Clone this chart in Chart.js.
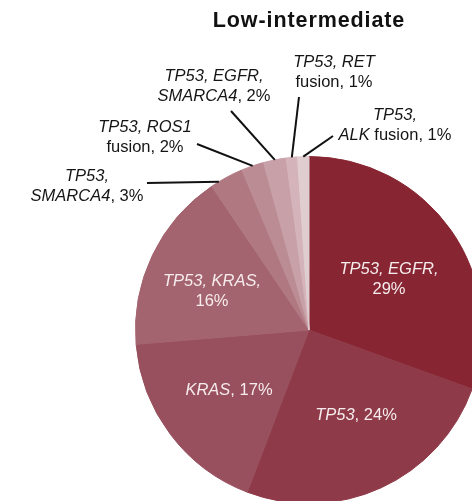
<!DOCTYPE html>
<html>
<head>
<meta charset="utf-8">
<script src="https://cdn.jsdelivr.net/npm/chart.js@4"></script>
<style>
  html, body { margin: 0; padding: 0; overflow: hidden; background: #fff; }
  #wrap { position: absolute; left: 0; top: 0; width: 483px; height: 504px; }
</style>
</head>
<body>
<div id="wrap"><canvas id="pieChart"></canvas></div>
<script>
// slices, clockwise from 12 o'clock
const categories = ['TP53, EGFR', 'TP53', 'KRAS', 'TP53, KRAS', 'TP53, SMARCA4',
  'TP53, ROS1 fusion', 'TP53, EGFR, SMARCA4', 'TP53, RET fusion', 'TP53, ALK fusion'];
const shares = [29, 24, 17, 16, 3, 2, 2, 1, 1];
const colors = ['#872632', '#8f3a48', '#98505e', '#a4646f', '#b07880',
  '#bc8c94', '#c8a0a8', '#d4b4ba', '#e0cdd0'];
const title = 'Low-intermediate';

// label text: each line is a list of [text, italic] runs, '%' gets the share
const labelLines = [
  [[['TP53, EGFR,', true]], [['%', false]]],
  [[['TP53', true], [', %', false]]],
  [[['KRAS', true], [', %', false]]],
  [[['TP53, KRAS,', true]], [['%', false]]],
  [[['TP53,', true]], [['SMARCA4', true], [', %', false]]],
  [[['TP53, ROS1', true]], [['fusion, %', false]]],
  [[['TP53, EGFR,', true]], [['SMARCA4', true], [', %', false]]],
  [[['TP53, RET', true]], [['fusion, %', false]]],
  [[['TP53,', true]], [['ALK', true], [' fusion, %', false]]]
];

// where each label sits; outside ones get a leader line to the arc
const labelPos = [
  { x: 389, y: 269, inside: true },
  { x: 356, y: 415, inside: true },
  { x: 229, y: 390, inside: true },
  { x: 212, y: 281, inside: true },
  { x: 87, y: 176, end: [147, 183], angleShift: -0.05 },
  { x: 145, y: 127, end: [197, 144] },
  { x: 214, y: 76, end: [231, 111] },
  { x: 334, y: 62, end: [299, 97] },
  { x: 395, y: 115, end: [333, 136] }
];

const FONT = '"Liberation Sans", Arial, sans-serif';

function drawRuns(ctx, runs, cx, cy, size) {
  const fonts = runs.map(r => (r[1] ? 'italic ' : '') + size + 'px ' + FONT);
  let total = 0;
  const widths = runs.map((r, i) => { ctx.font = fonts[i]; const w = ctx.measureText(r[0]).width; total += w; return w; });
  let x = cx - total / 2;
  runs.forEach((r, i) => {
    ctx.font = fonts[i];
    ctx.fillText(r[0], x, cy);
    x += widths[i];
  });
}

const labelPlugin = {
  id: 'labels',
  afterDraw(chart) {
    const ctx = chart.ctx;
    const arcs = chart.getDatasetMeta(0).data;
    ctx.save();
    ctx.textBaseline = 'middle';

    // title
    ctx.fillStyle = '#111';
    ctx.font = 'bold 21.5px ' + FONT;
    ctx.letterSpacing = '0.9px';
    ctx.textAlign = 'center';
    ctx.fillText(title, 309, 21);
    ctx.letterSpacing = '0px';
    ctx.textAlign = 'left';

    arcs.forEach((arc, i) => {
      const p = labelPos[i];
      if (p.end) {
        const mid = (arc.startAngle + arc.endAngle) / 2 + (p.angleShift || 0);
        const ax = arc.x + Math.cos(mid) * arc.outerRadius;
        const ay = arc.y + Math.sin(mid) * arc.outerRadius;
        ctx.strokeStyle = '#111';
        ctx.lineWidth = 2;
        ctx.beginPath();
        ctx.moveTo(p.end[0], p.end[1]);
        ctx.lineTo(ax, ay);
        ctx.stroke();
      }
      ctx.fillStyle = p.inside ? '#f6eced' : '#151515';
      labelLines[i].forEach((line, k) => {
        const runs = line.map(r => [r[0].replace('%', shares[i] + '%'), r[1]]);
        drawRuns(ctx, runs, p.x, p.y + k * 20.5, 16.5);
      });
    });
    ctx.restore();
  }
};

new Chart(document.getElementById('pieChart'), {
  type: 'pie',
  data: {
    labels: categories,
    datasets: [{
      data: shares,
      backgroundColor: colors,
      borderColor: colors,
      borderWidth: 1,
      clip: false
    }]
  },
  options: {
    responsive: true,
    maintainAspectRatio: false,
    animation: false,
    layout: { padding: { left: 135, top: 156, right: 0, bottom: 0 } },
    plugins: {
      legend: { display: false },
      tooltip: { enabled: false },
      title: { display: false }
    }
  },
  plugins: [labelPlugin]
});
</script>
</body>
</html>
